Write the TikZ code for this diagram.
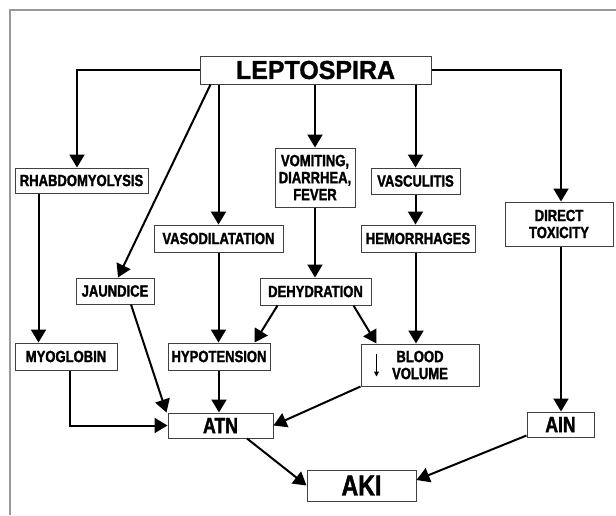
\documentclass[tikz,border=0pt]{standalone}
\usepackage{fontspec}
\usetikzlibrary{arrows.meta}
\newfontfamily\condfont{Liberation Sans}[FakeStretch=0.8,FakeBold=1.6]
\newfontfamily\widefont{Liberation Sans}[FakeStretch=0.96,FakeBold=1.2]
\begin{document}
\begin{tikzpicture}[x=1pt,y=-1pt,
  box/.style={draw=black!75,line width=1pt,fill=white,inner sep=0pt,align=center,
    font=\condfont\bfseries\fontsize{16.3}{17}\selectfont},
  bigbox/.style={box,font=\condfont\bfseries\fontsize{22}{24}\selectfont},
  arr/.style={line width=2pt,-{Triangle[length=13pt,width=15pt]}},
  frame/.style={draw=black!40,line width=1.5pt}]
\useasboundingbox (0,0) rectangle (616,515);
\draw[frame] (10,515) -- (10,10) -- (616,10);

\node[box,minimum width=231pt,minimum height=28pt,font=\widefont\bfseries\fontsize{26}{28}\selectfont] (lepto) at (315.5,70) {LEPTOSPIRA};
\node[box,minimum width=133pt,minimum height=25pt] (rhabdo) at (81.5,180.5) {RHABDOMYOLYSIS};
\node[box,minimum width=80pt,minimum height=59pt] (vomit) at (315,177.5) {VOMITING,\\DIARRHEA,\\FEVER};
\node[box,minimum width=129pt,minimum height=27pt] (vasod) at (218.5,238.5) {VASODILATATION};
\node[box,minimum width=78pt,minimum height=26pt] (jaund) at (115,291) {JAUNDICE};
\node[box,minimum width=89pt,minimum height=26pt] (vascu) at (415.5,181) {VASCULITIS};
\node[box,minimum width=114pt,minimum height=27pt] (hemor) at (418,238.5) {HEMORRHAGES};
\node[box,minimum width=108pt,minimum height=44pt] (direct) at (559,224) {DIRECT\\TOXICITY};
\node[box,minimum width=111pt,minimum height=27pt] (dehyd) at (315.5,291.5) {DEHYDRATION};
\node[box,minimum width=102pt,minimum height=27pt] (myog) at (66,356.5) {MYOGLOBIN};
\node[box,minimum width=102pt,minimum height=27pt] (hypot) at (219,356.5) {HYPOTENSION};
\node[box,minimum width=118pt,minimum height=42pt] (blood) at (420,365) {BLOOD\\VOLUME};
\node[bigbox,minimum width=105pt,minimum height=25pt] (atn) at (220.5,425.5) {ATN};
\node[bigbox,minimum width=109pt,minimum height=31pt,font=\condfont\bfseries\fontsize{29}{30}\selectfont] (aki) at (361.5,485.5) {AKI};
\node[bigbox,minimum width=67pt,minimum height=25pt] (ain) at (560.5,424.5) {AIN};

% small down arrow inside BLOOD VOLUME
\draw[line width=1pt,-{Triangle[length=5pt,width=5pt]}] ([xshift=16pt,yshift=-10pt]blood.north west) -- ([xshift=16pt,yshift=10pt]blood.south west);

\draw[arr] (lepto.west) -| ([xshift=-4.5pt]rhabdo.north);
\draw[arr] (lepto.south -| vomit.north) -- (vomit.north);
\draw[arr] (lepto.south -| vasod.north) -- (vasod.north);
\draw[arr] ([xshift=11pt]lepto.south west) -- ([xshift=3pt]jaund.north);
\draw[arr] (lepto.south -| vascu.north) -- (vascu.north);
\draw[arr] (lepto.east) -| ([xshift=2pt]direct.north);
\draw[arr] ([xshift=24pt]rhabdo.south west) -- ([xshift=24pt]myog.north west);
\draw[arr] (vomit.south) -- (vomit.south |- dehyd.north);
\draw[arr] (vascu.south) -- (vascu.south |- hemor.north);
\draw[arr] (vasod.south) -- (vasod.south |- hypot.north);
\draw[arr] ([xshift=18pt]dehyd.south west) -- ([xshift=-16pt]hypot.north east);
\draw[arr] ([xshift=-18pt]dehyd.south east) -- ([xshift=16pt]blood.north west);
\draw[arr] ([xshift=-2pt]hemor.south) -- ([xshift=-4pt]blood.north);
\draw[arr] ([xshift=2pt]direct.south) -- ([xshift=0.5pt]ain.north);
\draw[arr] ([xshift=4pt]myog.south) |- (atn.west);
\draw[arr] ([xshift=16pt]jaund.south) -- ([xshift=-1pt]atn.north west);
\draw[arr] (hypot.south) -- (hypot.south |- atn.north);
\draw[arr] (blood.south west) -- (atn.east);
\draw[arr] ([xshift=26.5pt]atn.south) -- (aki.west);
\draw[arr] ([yshift=2pt]ain.south west) -- ([yshift=5.5pt]aki.east);
\end{tikzpicture}
\end{document}
